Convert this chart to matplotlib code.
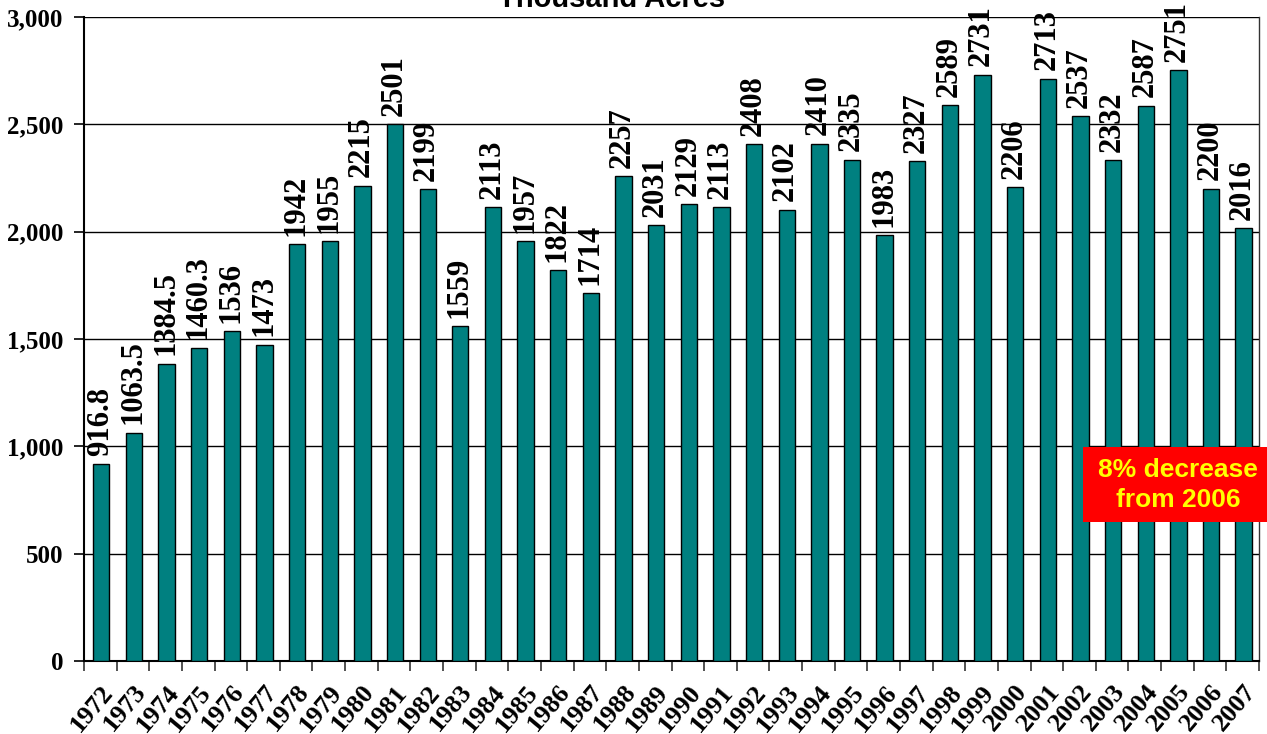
import matplotlib
matplotlib.use("Agg")
import matplotlib.pyplot as plt
from matplotlib.patches import Rectangle
import numpy as np

years = [str(y) for y in range(1972, 2008)]
values = [916.8, 1063.5, 1384.5, 1460.3, 1536, 1473, 1942, 1955, 2215, 2501,
          2199, 1559, 2113, 1957, 1822, 1714, 2257, 2031, 2129, 2113,
          2408, 2102, 2410, 2335, 1983, 2327, 2589, 2731, 2206, 2713,
          2537, 2332, 2587, 2751, 2200, 2016]
labels = ["916.8", "1063.5", "1384.5", "1460.3", "1536", "1473", "1942", "1955",
          "2215", "2501", "2199", "1559", "2113", "1957", "1822", "1714", "2257",
          "2031", "2129", "2113", "2408", "2102", "2410", "2335", "1983", "2327",
          "2589", "2731", "2206", "2713", "2537", "2332", "2587", "2751", "2200", "2016"]
yticks = [0, 500, 1000, 1500, 2000, 2500, 3000]
ytick_labels = ["0", "500", "1,000", "1,500", "2,000", "2,500", "3,000"]

W, H = 1267, 734
fig = plt.figure(figsize=(W / 100, H / 100), dpi=100)
ax = fig.add_axes([84 / W, 1 - 661 / H, (1259 - 84) / W, (661 - 17) / H])

serif = "Liberation Serif"
x = np.arange(len(years))
ax.bar(x + 0.03, values, width=0.5, color="#008080", edgecolor="black", linewidth=1, zorder=3)
ax.set_xlim(-0.5, len(years) - 0.5)
ax.set_ylim(0, 3000)

ax.set_yticks(yticks)
ax.set_yticklabels(ytick_labels, fontfamily=serif, fontweight="bold", fontsize=18)
ax.yaxis.grid(True, color="black", linewidth=1, zorder=0)
ax.tick_params(axis="y", direction="out", length=7, width=1.2, pad=8)

ax.set_xticks(x)
ax.set_xticklabels(years, rotation=50, ha="right", rotation_mode="anchor",
                   fontfamily=serif, fontweight="bold", fontsize=19)
ax.tick_params(axis="x", which="major", length=0, pad=14)
ax.set_xticks(np.arange(-0.5, len(years), 1), minor=True)
ax.tick_params(axis="x", which="minor", direction="out", length=7, width=1.2, color="#333333")

ax.spines["top"].set_visible(False)
ax.spines["left"].set_linewidth(1.5)
ax.spines["bottom"].set_linewidth(1.5)
ax.spines["right"].set_linewidth(1.0)
ax.spines["right"].set_color("#333333")

for xi, v, lab in zip(x, values, labels):
    ax.annotate(lab, (xi + 0.0, v), xytext=(0, 6), textcoords="offset points",
                rotation=90, ha="center", va="bottom", fontfamily=serif,
                fontweight="bold", fontsize=22, annotation_clip=False, zorder=4)

fig.text(612 / W, 1 - 7 / H, "Thousand Acres", ha="center", va="baseline",
         fontfamily="Liberation Sans", fontweight="bold", fontsize=21)

fig.patches.append(Rectangle((1083 / W, 1 - 522 / H), (W - 1083) / W, 75 / H,
                             transform=fig.transFigure, facecolor="#ff0000",
                             edgecolor="none", zorder=5))
fig.text(1178 / W, 1 - 485 / H, "8% decrease\nfrom 2006", ha="center", va="center",
         fontfamily="Liberation Sans", fontweight="bold", fontsize=19, color="#ffff00",
         linespacing=1.3, zorder=6)

fig.savefig("out.png", dpi=100)
